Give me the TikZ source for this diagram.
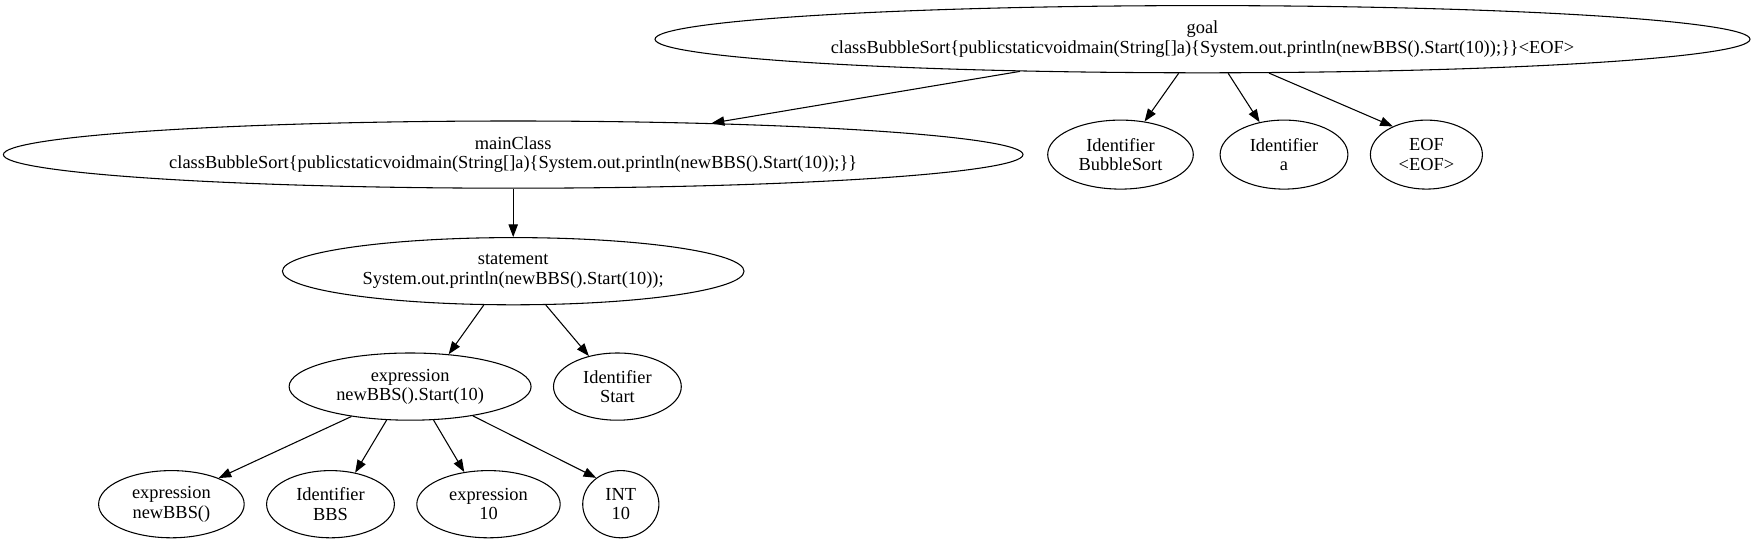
\documentclass[tikz,border=0pt]{standalone}
\usepackage{fontspec}
\setmainfont{Liberation Serif}
\usetikzlibrary{arrows.meta,shapes.geometric}

\tikzset{
    knoten/.style 2 args={ellipse, draw, line width=0.8pt, inner sep=0pt, align=center,
        font=\fontsize{13.8}{14.5}\selectfont,
        minimum width=#1*1.5pt, minimum height=#2*1.5pt},
    kante/.style={-{Triangle[length=9.5pt,width=7pt]}, line width=0.8pt}
}

\begin{document}
\begin{tikzpicture}[x=0.75pt,y=-0.75pt]
    \useasboundingbox (0,0) rectangle (1757,542);
    \path node[knoten={547.5}{33.6}] (goal) at (1202.5,39.2) {goal\\classBubbleSort\{publicstaticvoidmain(String[]a)\{System.out.println(newBBS().Start(10));\}\}<EOF>}
        node[knoten={509.8}{33.6}] (mainClass) at (513.2,154.6) {mainClass\\classBubbleSort\{publicstaticvoidmain(String[]a)\{System.out.println(newBBS().Start(10));\}\}}
        node[knoten={72.8}{34.5}] (idBubble) at (1120.5,154.6) {Identifier\\BubbleSort}
        node[knoten={63.9}{34.5}] (idA) at (1284,154.6) {Identifier\\a}
        node[knoten={56}{34.5}] (eof) at (1426.4,154.6) {EOF\\<EOF>}
        node[knoten={230.8}{33.6}] (statement) at (513.2,271.2) {statement\\System.out.println(newBBS().Start(10));}
        node[knoten={121}{33.6}] (exprStart) at (410.1,386.6) {expression\\newBBS().Start(10)}
        node[knoten={63.9}{33.6}] (idStart) at (617.4,386.6) {Identifier\\Start}
        node[knoten={72.8}{33.6}] (exprNew) at (171.4,504.2) {expression\\newBBS()}
        node[knoten={63.9}{33.6}] (idBBS) at (330.5,504.2) {Identifier\\BBS}
        node[knoten={71.7}{33.6}] (exprTen) at (488.5,504.2) {expression\\10}
        node[knoten={38.1}{33.6}] (intTen) at (620.8,504.2) {INT\\10};
        \draw[kante] (goal.190.5) -- (mainClass.9.5);
        \draw[kante] (goal.235) -- (idBubble.54);
        \draw[kante] (goal.-53.7) -- (idA.127);
        \draw[kante] (goal.-27) -- (eof.140);
        \draw[kante] (mainClass.south) -- (statement.north);
        \draw[kante] (statement.229) -- (exprStart.40.5);
        \draw[kante] (statement.-46) -- (idStart.133);
        \draw[kante] (exprStart.207) -- (exprNew.29);
        \draw[kante] (exprStart.235) -- (idBBS.52);
        \draw[kante] (exprStart.-55) -- (exprTen.127);
        \draw[kante] (exprStart.-25) -- (intTen.133);
\end{tikzpicture}
\end{document}
